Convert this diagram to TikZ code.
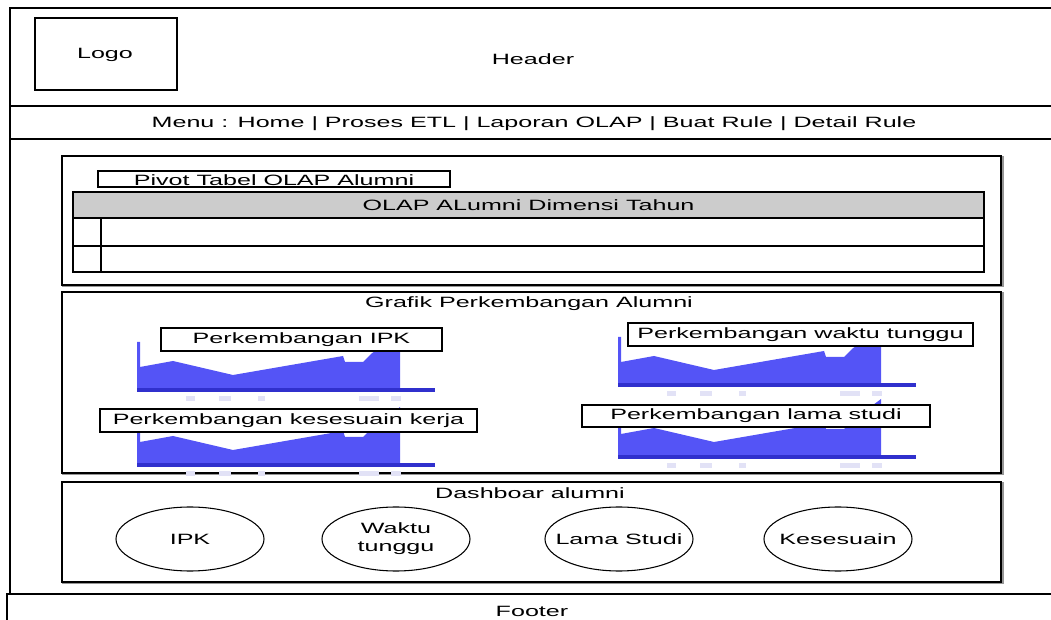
\documentclass[tikz,border=0pt]{standalone}
\usepackage{fontspec}
\setmainfont{Liberation Sans}[FakeStretch=1.68]
\usetikzlibrary{fit,shapes.geometric}
\definecolor{chartblue}{RGB}{84,84,246}
\definecolor{axisblue}{RGB}{48,48,205}
\definecolor{headgray}{RGB}{204,204,204}
\definecolor{tickpale}{RGB}{226,226,246}
\definecolor{shadowgray}{RGB}{150,150,150}

\tikzset{
  txt/.style={font=\fontsize{11.2}{13.5}\selectfont, text=black, inner sep=0pt},
  box/.style={draw=black, line width=0.8pt, inner sep=0pt},
  panel/.style={box},
  labelbox/.style={box, fill=white, txt},
  kpi/.style={ellipse, draw=black, line width=0.8pt, inner sep=0pt,
              minimum width=111pt, minimum height=48pt},
  pics/areachart/.style={code={
    % filled area with a thin left spike
    \fill[chartblue] (0,0) -- (0,-48) -- (3,-48) -- (3,-23) -- (36,-29)
      -- (96,-15) -- (206,-34) -- (208,-28) -- (226,-28) -- (234,-36)
      -- (263,-58) -- (263,0) -- cycle;
    \draw[axisblue, line width=2.4pt] (0,0) -- (298,0);
    % blurred axis tick labels
    \foreach \a/\b in {49/58, 82/94, 121/128, 222/242, 254/264}
      \fill[tickpale] (\a,6) rectangle (\b,11);
  }}
}

\begin{document}
\begin{tikzpicture}[x=0.75pt, y=-0.75pt]
\useasboundingbox (0,0) rectangle (1051,620);
\clip (0,0) rectangle (1051,620);

% page frame, header and menu bars
\node[box, fit={(10,8) (1080,594)}] (page) {};
\coordinate (hdrL) at (10,106);  \coordinate (hdrR) at (1080,106);
\coordinate (menuL) at (10,139); \coordinate (menuR) at (1080,139);
\draw[line width=0.8pt] (hdrL) -- (hdrR);
\draw[line width=0.8pt] (menuL) -- (menuR);

\node[box, fit={(35,18) (177,90)}] (logo) {};
\node[txt] (logotext) at (105,55) {Logo};
\node[txt] (header) at (533,59) {Header};
\node[txt] (menu) at (534,124) {Menu : Home | Proses ETL | Laporan OLAP | Buat Rule | Detail Rule};

% pivot table panel
\node[panel, fit={(62,156) (1001,285)}] (pivot) {};
\draw[shadowgray, line width=1pt] ([shift={(1,1.3)}]pivot.south west) -- ([shift={(1.3,1.3)}]pivot.south east) -- ([shift={(1.3,1)}]pivot.north east);
\node[labelbox, fit={(98,171) (450,187)}] (pivottitle) {};
\node[txt] at ([yshift=-0.5pt]pivottitle.center) {Pivot Tabel OLAP Alumni};
\node[box, fill=headgray, fit={(73,192) (984,218)}] (thead) {};
\node[txt] at (thead.center) {OLAP ALumni Dimensi Tahun};
\node[box, fit={(73,218) (984,246)}] (row1) {};
\node[box, fit={(73,246) (984,272)}] (row2) {};
\draw[line width=0.8pt] (101,218) -- (101,272);

% chart panel
\node[panel, fit={(62,292) (1001,473)}] (grafik) {};
\draw[shadowgray, line width=1pt] ([shift={(1,1.3)}]grafik.south west) -- ([shift={(1.3,1.3)}]grafik.south east) -- ([shift={(1.3,1)}]grafik.north east);
\node[txt] (grafiktitle) at (529,304) {Grafik Perkembangan Alumni};

\pic at (137,390) {areachart};
\pic at (618,385) {areachart};
\pic at (137,465) {areachart};
\pic at (618,457) {areachart};

\node[labelbox, fit={(161,328) (442,351)}] (ipkbox) {};
\node[txt] at (ipkbox.center) {Perkembangan IPK};
\node[labelbox, fit={(628,323) (973,346)}] (waktubox) {};
\node[txt] at (waktubox.center) {Perkembangan waktu tunggu};
\node[labelbox, fit={(100,409) (477,432)}] (kerjabox) {};
\node[txt] at (kerjabox.center) {Perkembangan kesesuain kerja};
\node[labelbox, fit={(582,405) (930,427)}] (studibox) {};
\node[txt] at (studibox.center) {Perkembangan lama studi};

% dashboard panel
\node[panel, fit={(62,482) (1001,582)}] (dash) {};
\draw[shadowgray, line width=1pt] ([shift={(1,1.3)}]dash.south west) -- ([shift={(1.3,1.3)}]dash.south east) -- ([shift={(1.3,1)}]dash.north east);
\node[txt] (dashtitle) at (530,493) {Dashboar alumni};

\node[kpi] (kipk) at (190,539) {};
\node[txt] at (kipk.center) {IPK};
\node[kpi] (kwaktu) at (396,539) {};
\node[txt, align=center] at (kwaktu.center) {Waktu\\tunggu};
\node[kpi] (klama) at (619,539) {};
\node[txt] at (klama.center) {Lama Studi};
\node[kpi] (kses) at (838,539) {};
\node[txt] at (kses.center) {Kesesuain};

% footer bar
\node[box, fit={(7,594) (1080,640)}] (footer) {};
\node[txt] (footertext) at (532,611) {Footer};
\end{tikzpicture}
\end{document}
